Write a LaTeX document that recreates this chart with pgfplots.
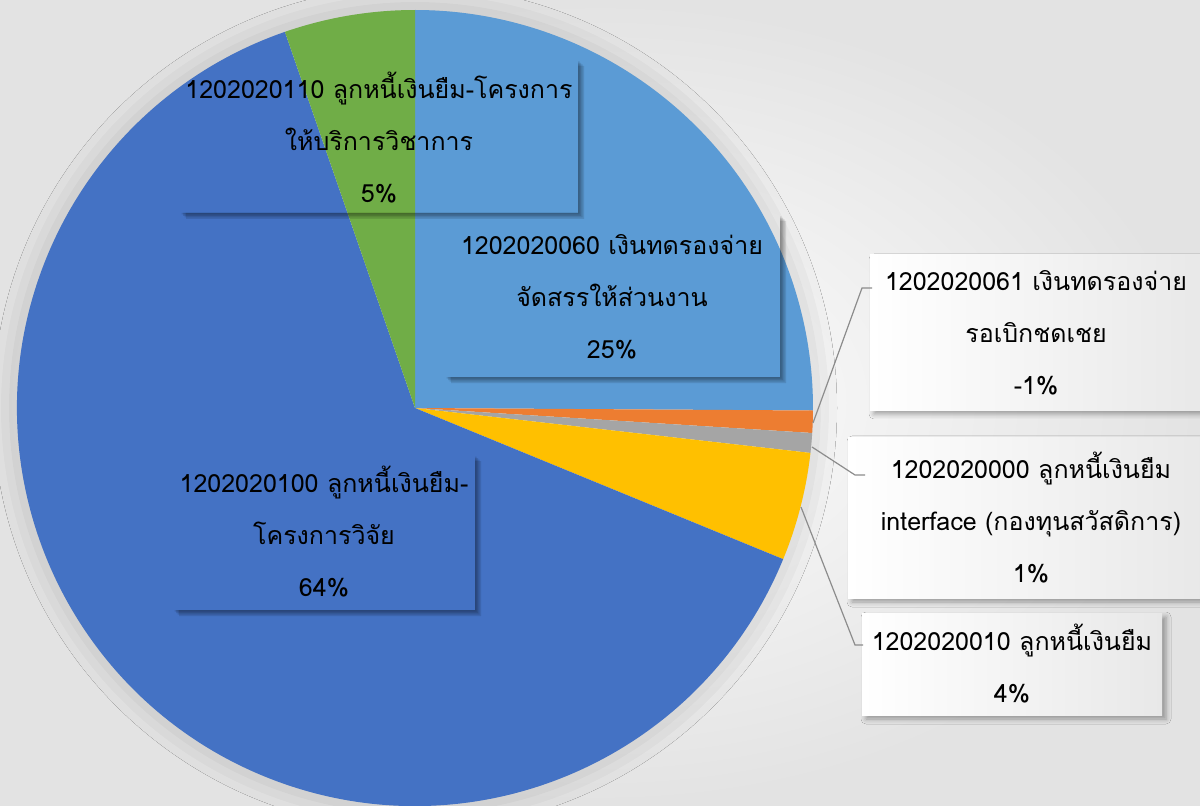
\documentclass[border=0pt]{standalone}
\usepackage{pgfplots}
\pgfplotsset{compat=1.18}
\usepackage{pgfplotstable}
\usetikzlibrary{shadows.blur}
\usepackage{fontspec}
\newfontfamily\thaifont[Script=Thai]{Loma}

\definecolor{lblue}{HTML}{5B9BD5}
\definecolor{orng}{HTML}{ED7D31}
\definecolor{gry}{HTML}{A5A5A5}
\definecolor{yel}{HTML}{FFC000}
\definecolor{dblue}{HTML}{4472C4}
\definecolor{grn}{HTML}{70AD47}
\definecolor{leader}{HTML}{8C8C8C}

% share of the pie (absolute value, clockwise from 12 o'clock)
\pgfplotstableread{
share col
25.1  lblue
0.9   orng
0.8   gry
4.4   yel
63.5  dblue
5.3   grn
}\pietable

\newcommand{\lbl}{\thaifont\fontsize{12.5}{26}\selectfont}
% soft shadow on the lower right of a see-through label box
\newcommand{\boxshadow}[4]{%
  \pgfplotsinvokeforeach{1.5,3,4.5,6}{%
    \fill[black, opacity=0.11] (#1+##1,#2) -- (#1+##1,#2-##1) -- (#3+##1,#2-##1)
      -- (#3+##1,#4-##1) -- (#3,#4-##1) -- (#3,#2) -- cycle;}%
}
\tikzset{outbox/.style={left color=white, right color=black!9,
    blur shadow={shadow xshift=2pt, shadow yshift=-2pt,
      shadow blur radius=2.5pt, shadow opacity=35}}}

\begin{document}
\begin{tikzpicture}
\begin{axis}[
    hide axis,
    scale only axis,
    width=600pt, height=402.5pt,
    xmin=0, xmax=1200, ymin=0, ymax=805,
    clip=false,
  ]
  % background
  \shade[inner color=white, outer color=black!11] (0,0) rectangle (1200,805);
  % pie shadow
  \fill[white, blur shadow={shadow xshift=0pt, shadow yshift=0pt,
      shadow blur radius=14pt, shadow opacity=22}] (415,397) circle[radius=197pt];

  % wedges
  \pgfplotstablegetrowsof{\pietable}
  \pgfmathtruncatemacro\lastrow{\pgfplotsretval-1}
  \xdef\angstart{90}
  \pgfplotsforeachungrouped \r in {0,...,\lastrow}{%
    \pgfplotstablegetelem{\r}{share}\of\pietable
    \let\sh=\pgfplotsretval
    \pgfplotstablegetelem{\r}{col}\of\pietable
    \let\cl=\pgfplotsretval
    \pgfmathsetmacro\angend{\angstart-3.6*\sh}
    \edef\temp{\noexpand\fill[\cl] (415,397) -- ++(\angstart:199pt)
      arc[start angle=\angstart, end angle=\angend, radius=199pt] -- cycle;}
    \temp
    \xdef\angstart{\angend}
  }

  % label boxes on the pie
  \boxshadow{180}{592}{578}{745}
  \boxshadow{445}{428}{780}{590}
  \boxshadow{173}{195}{475}{350}

  % label boxes beside the pie
  \fill[outbox] (870,395) rectangle (1206,550);
  \fill[outbox] (848,207) rectangle (1206,368);
  \fill[outbox] (862,90) rectangle (1162,192);

  % leader lines
  \draw[leader, line width=0.6pt] (813,382) -- (862,517) -- (872,517);
  \draw[leader, line width=0.6pt] (812,358) -- (855,330) -- (865,330);
  \draw[leader, line width=0.6pt] (801,298) -- (855,160) -- (863,160);

  % labels
  \node[font=\lbl, align=center] at (379,667)
    {1202020110 ลูกหนี้เงินยืม-โครงการ\\ให้บริการวิชาการ\\5\%};
  \node[font=\lbl, align=center] at (612,508)
    {1202020060 เงินทดรองจ่าย\\จัดสรรให้ส่วนงาน\\25\%};
  \node[font=\lbl, align=center] at (324,273)
    {1202020100 ลูกหนี้เงินยืม-\\โครงการวิจัย\\64\%};
  \node[font=\lbl, align=center] at (1036,472)
    {1202020061 เงินทดรองจ่าย\\รอเบิกชดเชย\\-1\%};
  \node[font=\lbl, align=center] at (1031,287)
    {1202020000 ลูกหนี้เงินยืม\\interface (กองทุนสวัสดิการ)\\1\%};
  \node[font=\lbl, align=center] at (1012,141)
    {1202020010 ลูกหนี้เงินยืม\\4\%};
\end{axis}
\pgfresetboundingbox
\useasboundingbox (0,0) rectangle (600pt,402.5pt);
\end{tikzpicture}
\end{document}
